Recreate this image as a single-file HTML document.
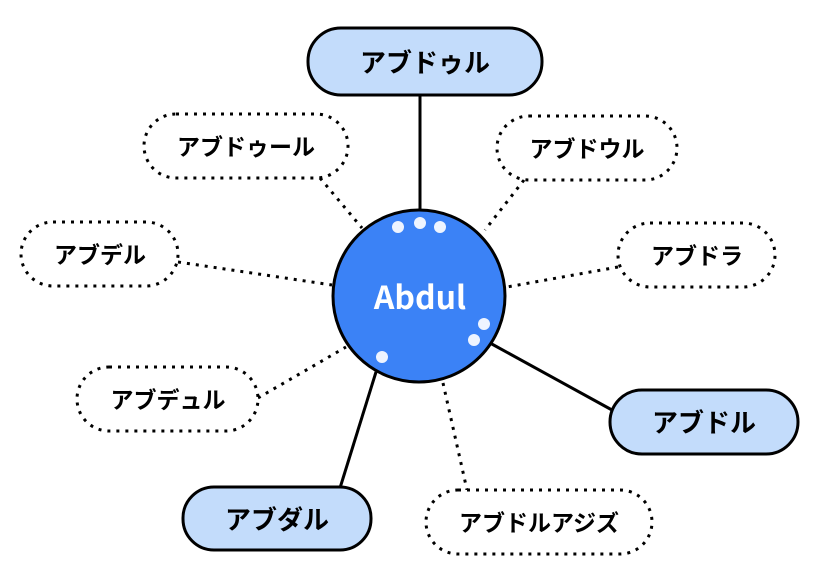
<!DOCTYPE html>
<html><head><meta charset="utf-8"><style>
html,body{margin:0;padding:0;background:#fff;width:820px;height:580px;overflow:hidden}
text{font-family:"Noto Sans CJK JP","Liberation Sans",sans-serif;font-weight:bold}
</style></head><body>
<svg width="820" height="580" viewBox="0 0 820 580" xmlns="http://www.w3.org/2000/svg">
<g stroke="#000" stroke-width="3" fill="none">
<line x1="420" y1="95" x2="420" y2="210"/>
<line x1="490" y1="343" x2="612" y2="410"/>
<line x1="376" y1="372" x2="340" y2="488"/>
</g>
<g stroke="#000" stroke-width="3" fill="none" stroke-dasharray="3 6">
<line x1="320" y1="178" x2="362" y2="228"/>
<line x1="524" y1="180" x2="485" y2="230"/>
<line x1="178" y1="262" x2="332" y2="285"/>
<line x1="618" y1="267" x2="507" y2="287"/>
<line x1="258" y1="398" x2="346" y2="347"/>
<line x1="443" y1="383" x2="467" y2="490"/>
</g>
<g stroke="#000" stroke-width="3" fill="#c3dcfb">
<rect x="308" y="28" width="234" height="67" rx="33"/>
<rect x="610" y="390" width="188" height="64" rx="32"/>
<rect x="183" y="487" width="188" height="63" rx="31"/>
</g>
<g stroke="#000" stroke-width="3" fill="#fff" stroke-dasharray="3 6">
<rect x="144" y="114" width="204" height="64" rx="32"/>
<rect x="497" y="116" width="180" height="64" rx="32"/>
<rect x="21" y="222" width="157" height="64" rx="32"/>
<rect x="618" y="223" width="157" height="64" rx="32"/>
<rect x="77" y="367" width="181" height="64" rx="32"/>
<rect x="426" y="490" width="226" height="64" rx="32"/>
</g>
<circle cx="419" cy="296" r="86" fill="#3b82f6" stroke="#000" stroke-width="3"/>
<g fill="#eef4ff">
<circle cx="398" cy="227" r="6"/><circle cx="420" cy="223" r="6"/><circle cx="440" cy="227" r="6"/>
<circle cx="484" cy="324" r="6"/><circle cx="474" cy="340" r="6"/><circle cx="382" cy="357" r="6"/>
</g>
<text x="420" y="309" font-size="32" fill="#fff" text-anchor="middle">Abdul</text>
<g font-size="26" fill="#000" text-anchor="middle">
<text x="425" y="72">アブドゥル</text>
<text x="704" y="432">アブドル</text>
<text x="277" y="529">アブダル</text>
</g>
<g font-size="23" fill="#000" text-anchor="middle">
<text x="246" y="155">アブドゥール</text>
<text x="587" y="157">アブドウル</text>
<text x="100" y="263">アブデル</text>
<text x="697" y="264">アブドラ</text>
<text x="168" y="408">アブデュル</text>
<text x="539" y="531">アブドルアジズ</text>
</g>
</svg>
</body></html>
